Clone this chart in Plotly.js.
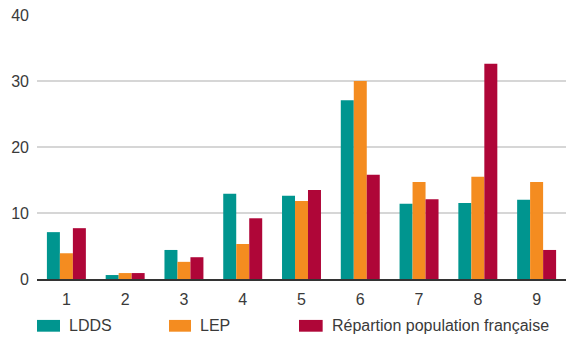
<!DOCTYPE html>
<html>
<head>
<meta charset="utf-8">
<script src="https://cdn.plot.ly/plotly-3.0.1.min.js"></script>
<style>
  html, body { margin: 0; padding: 0; background: #ffffff; }
  #chart { width: 566px; height: 339px; }
</style>
</head>
<body>
<div id="chart"></div>
<script>
// Catégories (déciles) et parts en %
const categories = ["1", "2", "3", "4", "5", "6", "7", "8", "9"];
const ldds = [7.1, 0.6, 4.4, 12.9, 12.6, 27.1, 11.4, 11.5, 12.0];
const lep = [3.9, 0.9, 2.6, 5.3, 11.8, 30.0, 14.7, 15.5, 14.7];
const population = [7.7, 0.9, 3.3, 9.2, 13.5, 15.8, 12.1, 32.6, 4.4];
const seriesNames = ["LDDS", "LEP", "Répartion population française"];
const yTicks = [0, 10, 20, 30, 40];

const colors = ["#00958f", "#f48c20", "#af0638"];
const FONT = "'Liberation Sans', Arial, sans-serif";
const TEXT = "#3a3a3a";

const traces = [ldds, lep, population].map((vals, i) => ({
  type: "bar",
  name: seriesNames[i],
  x: categories,
  y: vals,
  marker: { color: colors[i], line: { width: 0 } },
  hoverinfo: "x+y+name"
}));

// Légende dessinée sous le graphique : pavés de couleur + libellés
const legendPos = [
  { x0: 0.0, x1: 0.0435, tx: 0.056 },
  { x0: 0.2495, x1: 0.2911, tx: 0.3043 },
  { x0: 0.4953, x1: 0.540, tx: 0.5539 }
];
const shapes = legendPos.map((p, i) => ({
  type: "rect", xref: "paper", yref: "paper",
  x0: p.x0, x1: p.x1, y0: -0.155, y1: -0.1996,
  fillcolor: colors[i], line: { width: 0 }
}));
const annotations = legendPos.map((p, i) => ({
  xref: "paper", yref: "paper",
  x: p.tx, y: -0.178,
  xanchor: "left", yanchor: "middle",
  text: seriesNames[i], showarrow: false,
  font: { family: FONT, size: 16, color: TEXT }
}));

const layout = {
  width: 566,
  height: 339,
  margin: { l: 37, r: 0, t: 15, b: 60 },
  paper_bgcolor: "#ffffff",
  plot_bgcolor: "#ffffff",
  barmode: "group",
  bargap: 0.337,
  bargroupgap: 0,
  showlegend: false,
  font: { family: FONT, size: 16, color: TEXT },
  xaxis: {
    type: "category",
    showgrid: false,
    zeroline: false,
    showline: true,
    linecolor: "#333333",
    linewidth: 1.5,
    ticks: "",
    tickfont: { family: FONT, size: 16, color: TEXT },
    ticklabelstandoff: 5
  },
  yaxis: {
    range: [0, 40],
    tickvals: yTicks,
    ticktext: yTicks.map(String),
    showgrid: true,
    gridcolor: "#d6d6d6",
    gridwidth: 1.5,
    zeroline: false,
    showline: false,
    ticks: "",
    tickfont: { family: FONT, size: 16, color: TEXT },
    ticklabelstandoff: 7
  },
  shapes: shapes,
  annotations: annotations
};

Plotly.newPlot("chart", traces, layout, { displayModeBar: false, staticPlot: true });
</script>
</body>
</html>
